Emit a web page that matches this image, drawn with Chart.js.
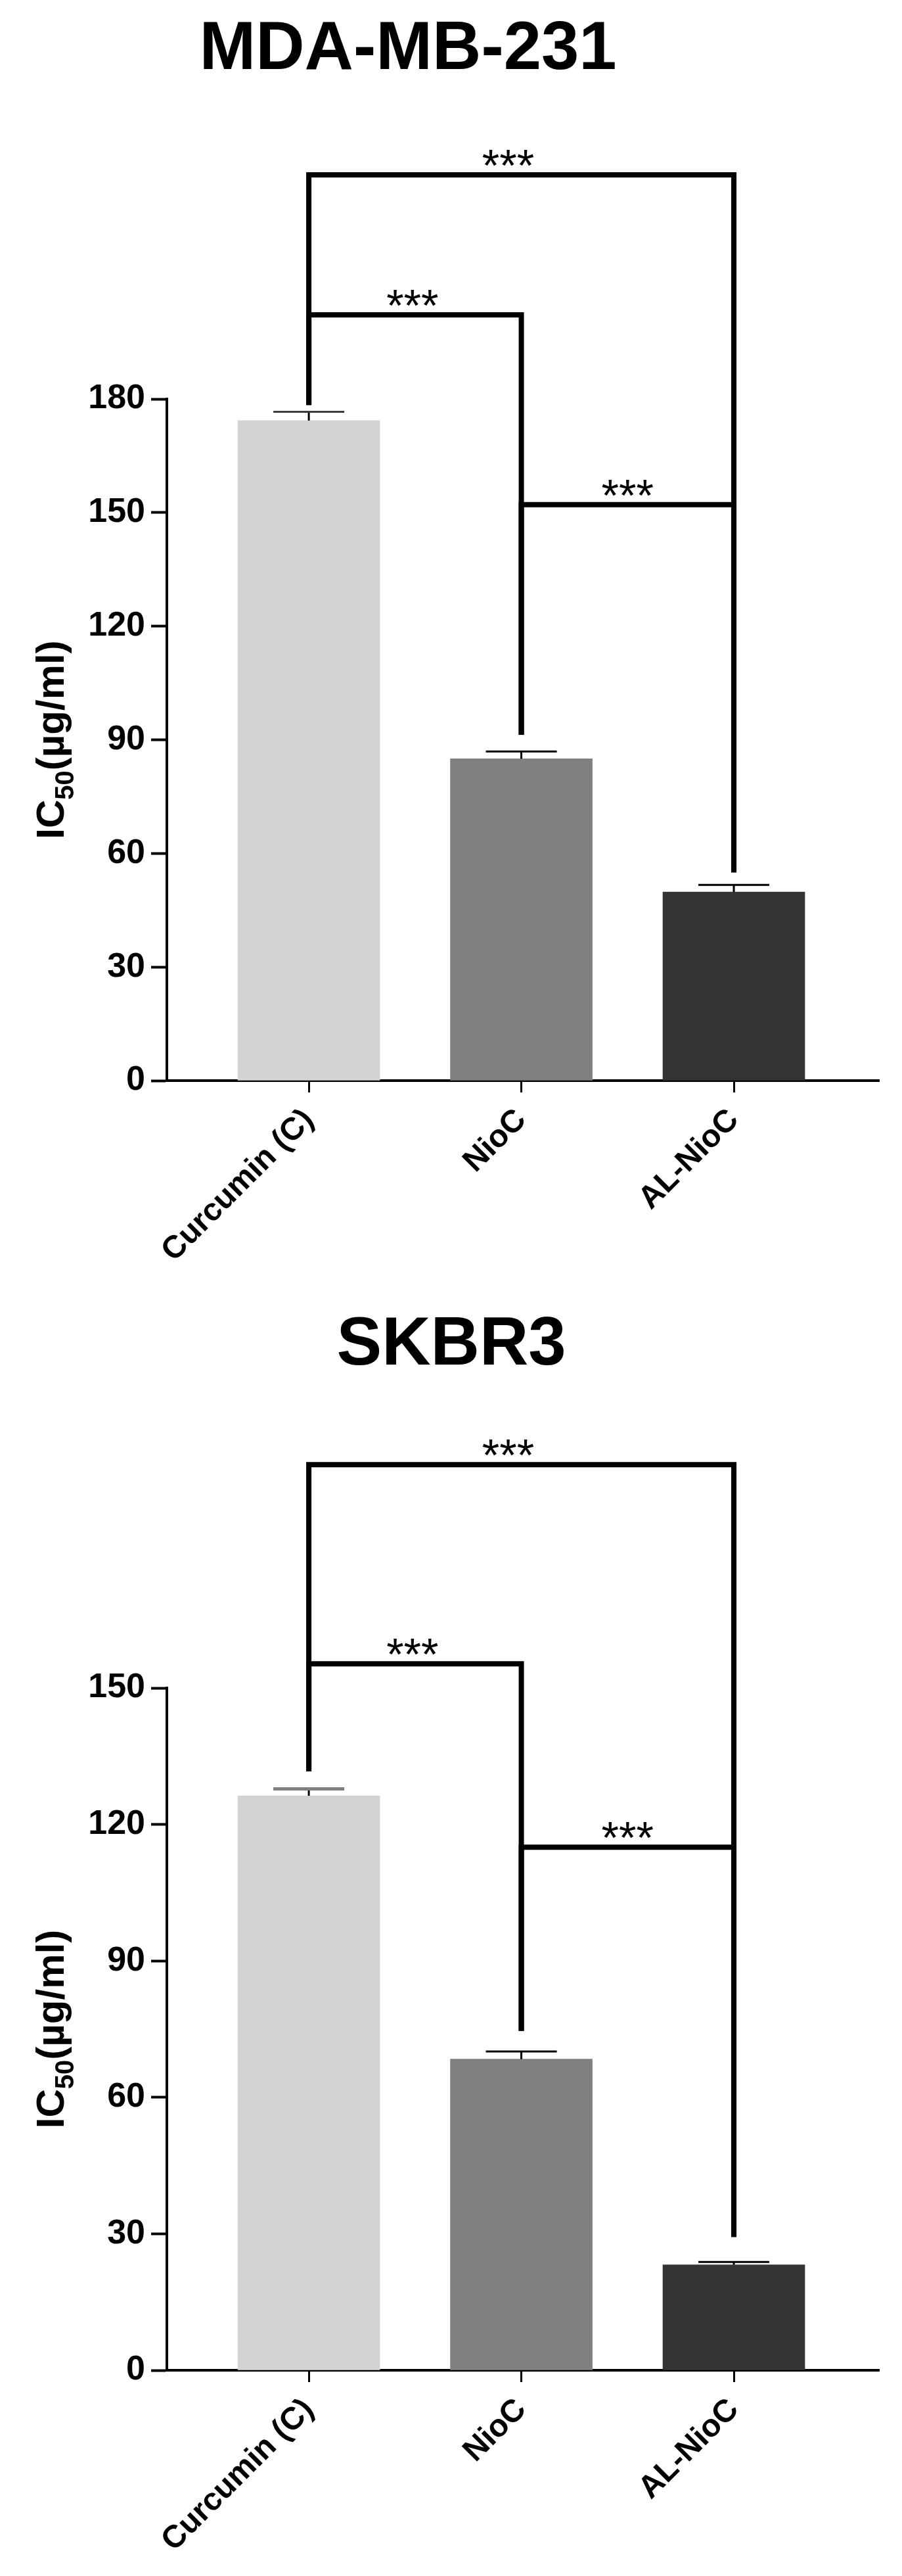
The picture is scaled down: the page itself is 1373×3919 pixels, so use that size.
<!DOCTYPE html>
<html>
<head>
<meta charset="utf-8">
<title>IC50</title>
<script src="https://cdn.jsdelivr.net/npm/chart.js@4.4.1/dist/chart.umd.min.js"></script>
<style>
  html, body { margin: 0; padding: 0; background: #fff; }
  canvas { display: block; }
</style>
</head>
<body>
<canvas id="mdaChart" width="1373" height="1960"></canvas>
<canvas id="skbrChart" width="1373" height="1959"></canvas>
<script>
// groups and colours shared by both panels
const groups = ['Curcumin (C)', 'NioC', 'AL-NioC'];
const barColors = ['#d3d3d3', '#808080', '#333333'];
const sigLabel = '***';

// MDA-MB-231
const mdaTitle = 'MDA-MB-231';
const mdaMeans = [174.3, 85.0, 49.8];
const mdaSD = [2.3, 1.9, 1.9];
const mdaTicks = [0, 30, 60, 90, 120, 150, 180];
// [from, to, bracket level, left leg end, right leg end]
const mdaBrackets = [[0, 2, 239.2, 178.4, 55.0], [0, 1, 202.2, 178.4, 91.3], [1, 2, 152.1, 91.3, 55.0]];

// SKBR3
const skbrTitle = 'SKBR3';
const skbrMeans = [126.3, 68.4, 23.2];
const skbrSD = [1.5, 1.7, 0.6];
const skbrTicks = [0, 30, 60, 90, 120, 150];
const skbrBrackets = [[0, 2, 199.1, 131.7, 29.3], [0, 1, 155.3, 131.7, 74.6], [1, 2, 115.0, 74.6, 29.3]];

const FONT = '"Liberation Sans", Arial, Helvetica, sans-serif';
Chart.defaults.font.family = FONT;
Chart.defaults.color = '#000';

// title, y title, error bars and significance brackets
const panelExtras = {
  id: 'panelExtras',
  afterDraw(chart, args, o) {
    const { ctx, chartArea, scales: { x, y } } = chart;
    ctx.save();
    ctx.fillStyle = '#000';

    ctx.font = 'bold 103px ' + FONT;
    ctx.textAlign = 'center';
    ctx.textBaseline = 'alphabetic';
    ctx.fillText(o.title, o.titleX, o.titleY);

    // IC50(µg/ml) with subscript
    ctx.save();
    ctx.translate(97, (chartArea.top + chartArea.bottom) / 2);
    ctx.rotate(-Math.PI / 2);
    ctx.textAlign = 'left';
    const parts = [['IC', 'bold 60px ' + FONT, 0], ['50', 'bold 40px ' + FONT, 15], ['(µg/ml)', 'bold 60px ' + FONT, 0]];
    let total = 0;
    parts.forEach(p => { ctx.font = p[1]; total += ctx.measureText(p[0]).width; });
    let cx = -total / 2;
    parts.forEach(p => {
      ctx.font = p[1];
      ctx.fillText(p[0], cx, p[2]);
      cx += ctx.measureText(p[0]).width;
    });
    ctx.restore();

    // SD bars (upper only)
    o.means.forEach((m, i) => {
      const px = x.getPixelForValue(i + 1);
      const yb = y.getPixelForValue(m);
      const yt = y.getPixelForValue(m + o.sd[i]);
      ctx.strokeStyle = '#000';
      ctx.lineWidth = 3;
      ctx.beginPath();
      ctx.moveTo(px, yb);
      ctx.lineTo(px, yt);
      ctx.stroke();
      ctx.strokeStyle = o.capColors[i];
      ctx.lineWidth = o.capWidths[i];
      ctx.beginPath();
      ctx.moveTo(px - 54, yt);
      ctx.lineTo(px + 54, yt);
      ctx.stroke();
    });

    // brackets
    ctx.strokeStyle = '#000';
    ctx.lineWidth = 8;
    ctx.lineJoin = 'miter';
    ctx.lineCap = 'butt';
    ctx.textAlign = 'center';
    o.brackets.forEach((b, k) => {
      const xa = x.getPixelForValue(b[0] + 1);
      const xb = x.getPixelForValue(b[1] + 1);
      const yh = y.getPixelForValue(b[2]);
      ctx.beginPath();
      ctx.moveTo(xa, y.getPixelForValue(b[3]));
      ctx.lineTo(xa, yh);
      ctx.lineTo(xb, yh);
      ctx.lineTo(xb, y.getPixelForValue(b[4]));
      ctx.stroke();
      ctx.font = '68px ' + FONT;
      ctx.fillText(sigLabel, (xa + xb) / 2 + o.labelShift[k], yh + 9);
    });
    ctx.restore();
  }
};

function makePanel(id, p) {
  return new Chart(document.getElementById(id), {
    type: 'bar',
    data: {
      datasets: [{
        data: p.means.map((v, i) => ({ x: i + 1, y: v })),
        backgroundColor: barColors,
        borderWidth: 0,
        barThickness: 216
      }]
    },
    options: {
      responsive: false,
      animation: false,
      layout: { padding: { top: p.top, right: 36, left: 0, bottom: 0 } },
      plugins: {
        legend: { display: false },
        tooltip: { enabled: false },
        panelExtras: {
          title: p.title, titleX: p.titleX, titleY: p.titleY,
          means: p.means, sd: p.sd, brackets: p.brackets,
          capColors: p.capColors, capWidths: p.capWidths,
          labelShift: [-20, -4, 0]
        }
      },
      scales: {
        x: {
          type: 'linear',
          min: 0.332,
          max: 3.68,
          offset: false,
          afterBuildTicks: s => { s.ticks = groups.map((g, i) => ({ value: i + 1 })); },
          afterFit: s => { s.height = p.xAxisH; },
          grid: { offset: false, drawOnChartArea: false, tickLength: 18, tickWidth: 3, tickColor: '#000', color: '#000', lineWidth: 3 },
          border: { display: true, color: '#000', width: 4 },
          ticks: {
            autoSkip: false, maxRotation: 45, minRotation: 45, padding: 14,
            font: { size: 48, weight: 'bold' },
            callback: v => groups[v - 1]
          }
        },
        y: {
          min: 0,
          max: p.ticks[p.ticks.length - 1],
          afterBuildTicks: s => { s.ticks = p.ticks.map(v => ({ value: v })); },
          afterFit: s => { s.width = 254; },
          grid: { drawOnChartArea: false, tickLength: 24, tickWidth: 4, tickColor: '#000' },
          border: { display: true, color: '#000', width: 4 },
          ticks: { padding: 9, font: { size: 52, weight: 'bold' } }
        }
      }
    },
    plugins: [panelExtras]
  });
}

makePanel('mdaChart', {
  title: mdaTitle, titleX: 621, titleY: 105, top: 607, xAxisH: 316,
  means: mdaMeans, sd: mdaSD, ticks: mdaTicks, brackets: mdaBrackets,
  capColors: ['#3c3c3c', '#000', '#000'], capWidths: [3, 3, 3]
});

makePanel('skbrChart', {
  title: skbrTitle, titleX: 687, titleY: 116, top: 608, xAxisH: 313,
  means: skbrMeans, sd: skbrSD, ticks: skbrTicks, brackets: skbrBrackets,
  capColors: ['#808080', '#000', '#000'], capWidths: [5, 3, 3]
});
</script>
</body>
</html>
